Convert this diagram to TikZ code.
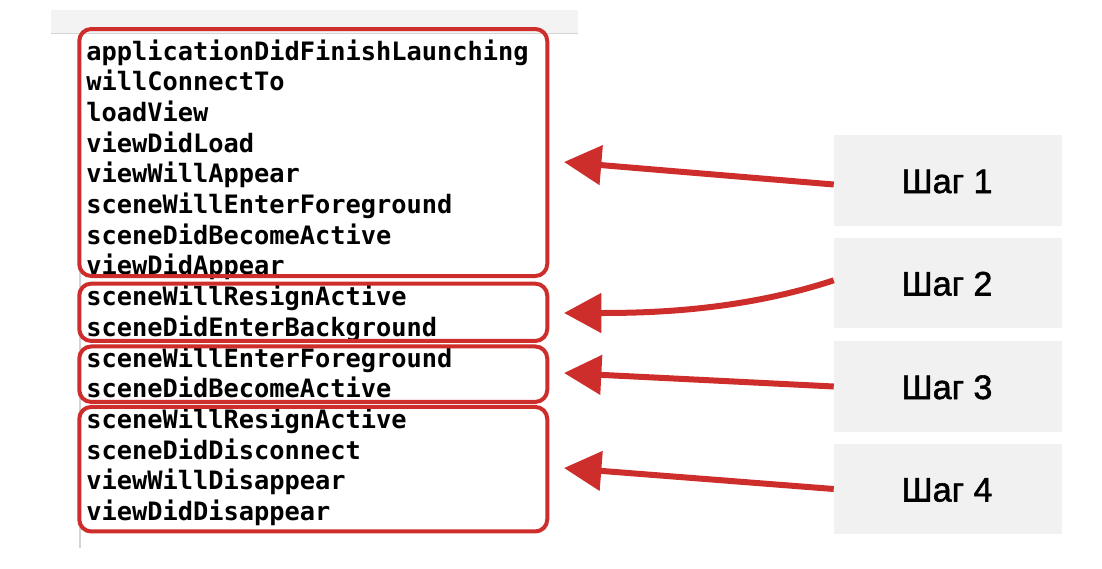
\documentclass[tikz,border=0pt]{standalone}
\usepackage{fontspec}
\setmainfont{Liberation Sans}
\newfontfamily\codefont{DejaVu Sans Mono}
\newfontfamily\stepfont[FakeBold=1.6]{Liberation Sans}
\usetikzlibrary{arrows.meta}
\definecolor{boxred}{RGB}{206,46,43}
\definecolor{stepgray}{RGB}{241,241,241}
\definecolor{barbg}{RGB}{243,243,243}
\definecolor{barline}{RGB}{212,212,212}
\begin{document}
\begin{tikzpicture}[x=0.75pt,y=-0.75pt,
 code/.style={anchor=base west, inner sep=0pt, font=\codefont\bfseries\fontsize{19}{19}\selectfont},
 group/.style={draw=boxred, line width=3pt, rounded corners=9pt, inner sep=0pt},
 stepbox/.style={fill=stepgray, inner sep=0pt, minimum width=171pt, minimum height=68pt},
 steplabel/.style={anchor=base, inner sep=0pt, font=\stepfont\fontsize{25.5}{25.5}\selectfont, text=black},
 stepline/.style={draw=boxred, line width=4.5pt, -{Triangle[length=28pt,width=29pt]}},
]
\useasboundingbox (0,0) rectangle (1102,568);
\fill[white] (0,0) rectangle (1102,568);
% header bar and guide line
\fill[barbg] (51,10) rectangle (578,33);
\draw[barline, line width=0.8pt] (51,33.5) -- (578,33.5);
\draw[barline, line width=0.8pt] (80,34) -- (80,548);

% code lines
\node[code] (l1)  at (86,60)    {applicationDidFinishLaunching};
\node[code] (l2)  at (86,90.7)  {willConnectTo};
\node[code] (l3)  at (86,121.4) {loadView};
\node[code] (l4)  at (86,152.1) {viewDidLoad};
\node[code] (l5)  at (86,182.8) {viewWillAppear};
\node[code] (l6)  at (86,213.5) {sceneWillEnterForeground};
\node[code] (l7)  at (86,244.2) {sceneDidBecomeActive};
\node[code] (l8)  at (86,274.9) {viewDidAppear};
\node[code] (l9)  at (86,305.6) {sceneWillResignActive};
\node[code] (l10) at (86,336.3) {sceneDidEnterBackground};
\node[code] (l11) at (86,367)   {sceneWillEnterForeground};
\node[code] (l12) at (86,397.7) {sceneDidBecomeActive};
\node[code] (l13) at (86,428.4) {sceneWillResignActive};
\node[code] (l14) at (86,459.1) {sceneDidDisconnect};
\node[code] (l15) at (86,489.8) {viewWillDisappear};
\node[code] (l16) at (86,520.5) {viewDidDisappear};

% red group boxes
\node[group, minimum width=351pt, minimum height=185.25pt] (g1) at (313.25,152.5) {};
\node[group, minimum width=351pt, minimum height=43pt]     (g2) at (313.25,312.3) {};
\node[group, minimum width=351pt, minimum height=41.6pt]   (g3) at (313.25,374.2) {};
\node[group, minimum width=351pt, minimum height=93.4pt]   (g4) at (313.25,469.2) {};

% step boxes
\node[stepbox] (s1) at (948,180.5) {};
\node[stepbox] (s2) at (948,283)   {};
\node[stepbox] (s3) at (948,386.5) {};
\node[stepbox] (s4) at (948,489)   {};
\node[steplabel] (n1) at (947,193)   {Шаг 1};
\node[steplabel] (n2) at (947,295.5) {Шаг 2};
\node[steplabel] (n3) at (947,399)   {Шаг 3};
\node[steplabel] (n4) at (947,501.5) {Шаг 4};

% arrow tips
\coordinate (t1) at (564,162);
\coordinate (t2) at (564,313);
\coordinate (t3) at (564,373);
\coordinate (t4) at (564,468);

\draw[stepline] ([yshift=-3pt]s1.west) -- (t1);
\draw[stepline] ([yshift=2pt]s2.west) .. controls (740,311) and (650,313) .. (t2);
\draw[stepline] (s3.west) -- (t3);
\draw[stepline] (s4.west) -- (t4);
\end{tikzpicture}
\end{document}
